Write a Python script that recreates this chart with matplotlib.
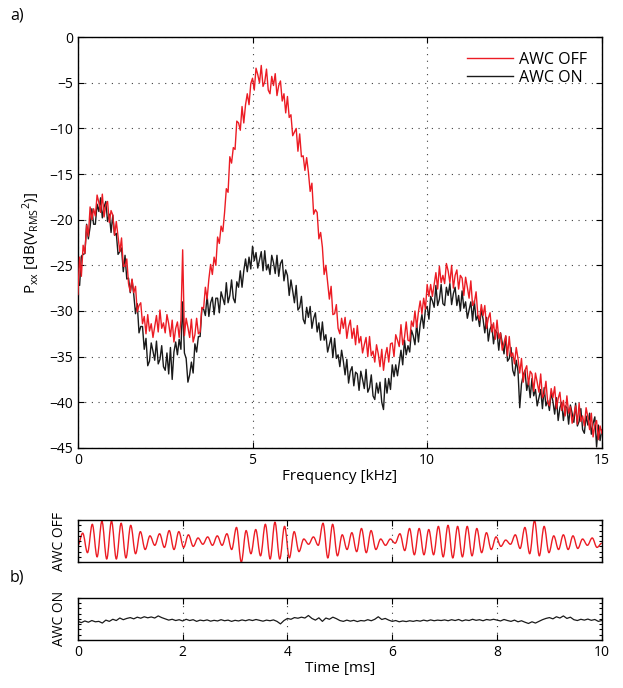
import numpy as np
import matplotlib
matplotlib.use("Agg")
from matplotlib import pyplot as plt
from matplotlib.path import Path
from matplotlib.patches import PathPatch

plt.rcParams['font.family'] = ['Open Sans', 'DejaVu Sans']
plt.rcParams['mathtext.default'] = 'regular'

# PSD, AWC OFF (red), 0 .. 15 kHz every 0.05 kHz
pxx_off = [
    -28.2, -24.1, -26.2, -22.8, -23.7, -20.6, -21.8, -18.6, -20.0, -18.8,
    -19.6, -17.3, -18.1, -19.2, -17.2, -19.7, -18.4, -18.0, -20.3, -19.0,
    -19.5, -21.7, -20.2, -21.8, -23.5, -22.0, -25.1, -25.1, -24.3, -27.0,
    -27.9, -26.5, -28.0, -27.3, -30.1, -29.4, -29.1, -31.4, -30.6, -32.5,
    -30.4, -32.2, -31.4, -32.9, -31.7, -30.5, -32.3, -29.9, -31.9, -31.3,
    -32.4, -30.4, -31.4, -32.8, -31.0, -33.4, -31.9, -31.2, -32.9, -31.0,
    -23.3, -32.7, -30.8, -31.8, -32.9, -30.9, -33.4, -32.6, -30.8, -32.5,
    -32.3, -29.6, -29.7, -27.4, -28.7, -26.5, -24.9, -26.0, -24.1, -25.0,
    -21.9, -22.6, -20.7, -21.3, -19.2, -16.6, -17.0, -13.1, -13.8, -12.1,
    -12.3, -9.2, -9.4, -10.2, -7.6, -9.4, -7.4, -6.2, -7.4, -5.1,
    -4.5, -5.8, -3.4, -4.1, -5.0, -3.1, -5.4, -4.9, -3.5, -5.8,
    -6.2, -4.3, -5.3, -4.0, -6.4, -5.3, -4.8, -7.0, -6.2, -8.3,
    -6.5, -8.8, -8.5, -10.8, -10.4, -10.0, -12.5, -10.6, -13.1, -13.0,
    -14.6, -13.2, -14.8, -16.9, -16.0, -19.4, -18.9, -19.2, -22.1, -21.4,
    -23.0, -26.0, -25.0, -26.8, -28.7, -27.3, -30.4, -30.3, -29.3, -31.9,
    -32.5, -30.8, -31.9, -30.7, -33.0, -31.7, -31.0, -33.0, -31.9, -33.7,
    -31.6, -33.5, -32.8, -34.6, -33.7, -32.9, -35.0, -32.8, -34.9, -34.4,
    -35.6, -33.7, -34.7, -36.1, -34.2, -36.5, -34.9, -34.0, -35.6, -33.6,
    -33.5, -35.0, -32.6, -33.2, -33.9, -31.5, -33.7, -32.9, -31.2, -33.2,
    -33.3, -31.1, -31.7, -30.0, -31.8, -30.1, -28.9, -30.3, -28.6, -29.8,
    -27.1, -28.4, -27.1, -28.4, -27.1, -25.8, -27.6, -25.1, -26.9, -26.1,
    -27.0, -24.8, -25.6, -26.9, -25.0, -27.5, -26.1, -25.5, -27.6, -26.1,
    -26.4, -28.3, -26.3, -27.4, -28.6, -26.7, -29.4, -29.1, -27.9, -30.4,
    -31.0, -29.3, -30.5, -29.4, -31.9, -30.8, -30.2, -32.3, -31.3, -33.1,
    -31.0, -33.0, -32.4, -34.3, -33.5, -32.7, -34.9, -32.8, -35.0, -34.6,
    -35.8, -34.0, -35.2, -36.8, -35.2, -37.8, -36.5, -36.0, -38.1, -36.6,
    -36.9, -38.8, -36.8, -37.8, -38.9, -36.9, -39.5, -39.1, -37.7, -40.0,
    -40.4, -38.5, -39.5, -38.3, -40.7, -39.6, -38.9, -40.9, -39.8, -41.5,
    -39.3, -41.2, -40.5, -42.3, -41.4, -40.4, -42.4, -40.1, -42.1, -41.5,
    -42.6, -40.6, -41.6, -43.0, -41.2, -43.8, -42.5, -42.0, -44.1, -42.6,
    -43.4,
]

# PSD, AWC ON (black)
pxx_on = [
    -27.0, -27.2, -24.0, -23.8, -23.7, -20.5, -22.1, -20.8, -18.8, -20.5,
    -20.5, -18.3, -19.1, -17.6, -19.8, -18.6, -18.0, -20.2, -19.4, -21.4,
    -19.5, -21.7, -21.5, -23.8, -23.5, -23.1, -25.7, -23.9, -26.5, -26.4,
    -28.0, -26.6, -28.2, -30.3, -29.2, -32.4, -31.7, -31.7, -34.2, -33.0,
    -36.0, -35.5, -33.5, -34.4, -35.4, -33.3, -35.8, -35.3, -33.8, -36.1,
    -36.5, -34.6, -36.9, -34.0, -37.5, -34.5, -33.4, -34.8, -33.1, -34.2,
    -29.0, -34.6, -35.2, -37.8, -37.0, -35.6, -36.8, -33.6, -34.5, -32.8,
    -32.8, -29.7, -29.8, -30.5, -28.3, -30.6, -29.1, -28.5, -30.4, -28.6,
    -28.6, -30.2, -27.9, -28.6, -29.3, -26.9, -29.1, -28.3, -26.6, -28.6,
    -29.1, -26.8, -27.4, -25.6, -27.4, -25.6, -24.3, -25.7, -24.1, -25.4,
    -22.9, -24.5, -23.6, -25.3, -24.4, -23.5, -25.6, -23.4, -25.5, -24.9,
    -26.0, -23.9, -24.7, -25.9, -23.9, -26.2, -24.8, -24.4, -26.7, -25.5,
    -26.1, -28.3, -26.6, -27.8, -29.1, -27.2, -29.9, -29.6, -28.4, -30.9,
    -31.4, -29.6, -30.7, -29.5, -31.9, -30.8, -30.2, -32.3, -31.3, -33.2,
    -31.2, -33.2, -32.6, -34.5, -33.7, -32.9, -35.1, -33.0, -35.2, -34.8,
    -36.1, -34.3, -35.5, -37.0, -35.3, -37.9, -36.6, -36.1, -38.2, -36.7,
    -36.9, -38.7, -36.6, -37.5, -38.5, -36.4, -38.9, -38.4, -37.0, -39.3,
    -39.7, -37.9, -39.0, -37.8, -40.0, -40.8, -37.4, -39.0, -37.4, -38.6,
    -35.9, -37.2, -35.9, -37.1, -35.7, -34.3, -35.9, -33.2, -34.8, -33.8,
    -34.5, -32.1, -32.7, -33.7, -31.4, -33.4, -31.5, -30.4, -31.9, -29.8,
    -29.5, -30.9, -28.4, -28.9, -29.6, -27.2, -29.4, -28.7, -27.1, -29.2,
    -29.4, -27.4, -28.3, -27.0, -29.3, -28.1, -27.4, -29.4, -28.3, -30.0,
    -27.8, -29.7, -29.0, -30.8, -29.9, -29.0, -31.1, -28.9, -31.0, -30.5,
    -31.7, -29.8, -30.9, -32.4, -30.7, -33.3, -32.0, -31.5, -33.6, -32.1,
    -32.4, -34.3, -32.4, -33.5, -34.7, -32.8, -35.5, -35.2, -34.0, -36.5,
    -37.1, -35.4, -36.6, -40.6, -38.0, -37.0, -36.5, -38.7, -37.7, -39.5,
    -37.4, -39.3, -38.6, -40.4, -39.5, -38.6, -40.7, -38.4, -40.4, -39.8,
    -40.9, -38.9, -39.9, -41.3, -39.5, -42.0, -40.6, -40.0, -42.0, -40.4,
    -40.6, -42.4, -40.3, -41.2, -42.2, -40.1, -42.6, -42.1, -40.7, -43.0,
    -43.4, -41.5, -42.5, -41.2, -43.5, -42.3, -41.6, -44.9, -42.5, -44.2,
    -43.0,
]

# time signal AWC OFF: successive peaks and troughs (normalised)
sig_off = [
    -0.2,
    0.38, -0.55, 0.8, -0.75, 0.95, -0.85, 0.95, -0.85, 0.85, -0.8,
    0.75, -0.6, 0.45, -0.4, 0.25, -0.2, 0.35, -0.3, 0.5, -0.4,
    0.45, -0.3, 0.3, -0.25, 0.15, -0.15, 0.2, -0.2, 0.25, -0.2,
    0.35, -0.4, 0.65, -1.0, 0.5, -0.6, 0.55, -0.7, 0.8, -0.85,
    0.9, -0.85, 0.7, -0.8, 0.45, -0.5, 0.1, -0.15, 0.2, -0.2,
    0.85, -0.8, 0.8, -0.7, 0.3, -0.4, 0.4, -0.5, 0.6, -0.55,
    0.5, -0.4, 0.1, -0.2, 0.1, -0.1, 0.35, -0.45, 0.6, -0.65,
    0.6, -0.65, 0.55, -0.65, 0.7, -0.75, 0.75, -0.8, 0.7, -0.75,
    0.7, -0.7, 0.6, -0.55, 0.4, -0.4, 0.2, -0.25, 0.05, -0.15,
    0.3, -0.35, 0.65, -0.6, 0.98, -0.7, 0.7, -0.55, 0.25, -0.4,
    0.3, -0.4, 0.25, -0.35, 0.1, -0.2, 0.15, -0.3,
    -0.1,
]

# time signal AWC ON (normalised)
sig_on = [
    -0.12, -0.18, -0.10, -0.16, -0.08, -0.14, -0.12, -0.20, -0.06, -0.12, -0.02, -0.08, 0.04, -0.04, 0.02,
    0.06, 0.00, 0.08, 0.03, 0.10, 0.05, 0.09, 0.04, 0.14, 0.06, 0.00, -0.06, -0.02, -0.08, -0.04,
    -0.10, -0.02, -0.08, -0.04, -0.12, -0.06, -0.09, -0.05, -0.11, -0.07, -0.10, -0.04, -0.09, -0.06, -0.12,
    -0.07, -0.10, -0.05, -0.09, -0.04, -0.08, -0.03, -0.07, -0.11, -0.06, -0.09, -0.05, -0.12, -0.24, -0.08,
    0.02, -0.02, 0.06, 0.03, 0.08, 0.04, 0.16, 0.02, -0.06, 0.05, -0.12, 0.04, -0.02, 0.08, 0.01,
    -0.08, -0.12, -0.06, -0.11, -0.07, -0.13, -0.08, -0.10, -0.04, -0.09, -0.02, 0.10, -0.03, 0.02, -0.06,
    -0.12, -0.08, -0.14, -0.10, -0.13, -0.09, -0.12, -0.08, -0.11, -0.06, -0.10, -0.05, -0.09, -0.06, -0.08,
    -0.05, -0.09, -0.04, -0.08, -0.03, -0.10, -0.05, -0.08, -0.02, -0.07, -0.04, -0.09, -0.03, -0.06, -0.02,
    -0.06, -0.10, -0.03, -0.08, -0.12, -0.06, -0.14, -0.09, -0.16, -0.22, -0.14, -0.20, -0.12, -0.04, 0.02,
    0.06, 0.00, 0.10, 0.04, 0.14, 0.02, 0.08, -0.04, -0.08, -0.02, -0.06, -0.01, -0.07, -0.03, -0.12,
    -0.08,
]

RED = '#ec1c24'
BLK = '#1a1a1a'
GRID = dict(color='0.25', linestyle=(0, (1, 5)), linewidth=0.8)


def style(ax):
    ax.tick_params(direction='in', top=True, right=True, labelsize=10, length=4, width=0.8)
    for s in ax.spines.values():
        s.set_linewidth(1.0)


def smooth_wave(ax, t, y, **kw):
    # draw peak/trough list as a smooth wave (bezier segments, flat at each extreme)
    verts = [(t[0], y[0])]
    codes = [Path.MOVETO]
    for i in range(1, len(t)):
        dt = t[i] - t[i - 1]
        verts += [(t[i - 1] + 0.36 * dt, y[i - 1]), (t[i] - 0.36 * dt, y[i]), (t[i], y[i])]
        codes += [Path.CURVE4] * 3
    ax.add_patch(PathPatch(Path(verts, codes), fill=False, **kw))


fig = plt.figure(figsize=(6.23, 6.88), dpi=100)

# a) spectrum
ax = fig.add_axes([0.125, 0.349, 0.841, 0.597])
f_off = np.linspace(0, 15, len(pxx_off))
f_on = np.linspace(0, 15, len(pxx_on))
l_on, = ax.plot(f_on, pxx_on, color=BLK, lw=1.0, zorder=2)
l_off, = ax.plot(f_off, pxx_off, color=RED, lw=1.0, zorder=3)
ax.set_xlim(0, 15)
ax.set_ylim(-45, 0)
ax.set_xticks([0, 5, 10, 15])
ax.set_yticks(np.arange(-45, 1, 5))
ax.grid(True, **GRID)
style(ax)
ax.set_xlabel('Frequency [kHz]', fontsize=11, labelpad=1)
ax.set_ylabel(r'P$_{xx}$ [dB(V$_{RMS}$$^{2}$)]', fontsize=11, labelpad=5)
ax.legend([l_off, l_on], ['AWC OFF', 'AWC ON'], loc='upper right', frameon=False,
          fontsize=11.5, handlelength=2.9, handletextpad=0.4, labelspacing=0.15,
          borderaxespad=0.5)

# b) time signals
t_off = np.linspace(0, 10, len(sig_off))
t_on = np.linspace(0, 10, len(sig_on))
ax1 = fig.add_axes([0.125, 0.183, 0.841, 0.061])
smooth_wave(ax1, t_off, sig_off, edgecolor=RED, lw=1.0)
ax2 = fig.add_axes([0.125, 0.070, 0.841, 0.061])
ax2.plot(t_on, sig_on, color=BLK, lw=0.9)
for a, lab in ((ax1, 'AWC OFF'), (ax2, 'AWC ON')):
    a.set_xlim(0, 10)
    a.set_ylim(-1, 1)
    a.set_xticks(np.arange(0, 11, 2))
    a.set_yticks(np.linspace(-1, 1, 9))
    a.set_yticklabels([])
    a.grid(True, axis='x', **GRID)
    style(a)
    a.tick_params(axis='y', length=2.5)
    a.set_ylabel(lab, fontsize=10, labelpad=4)
ax1.set_xticklabels([])
ax2.set_xlabel('Time [ms]', fontsize=11, labelpad=1)

fig.text(0.016, 0.978, 'a)', fontsize=11.5, va='center')
fig.text(0.016, 0.161, 'b)', fontsize=11.5, va='center')

plt.savefig('out.png', dpi=100)
